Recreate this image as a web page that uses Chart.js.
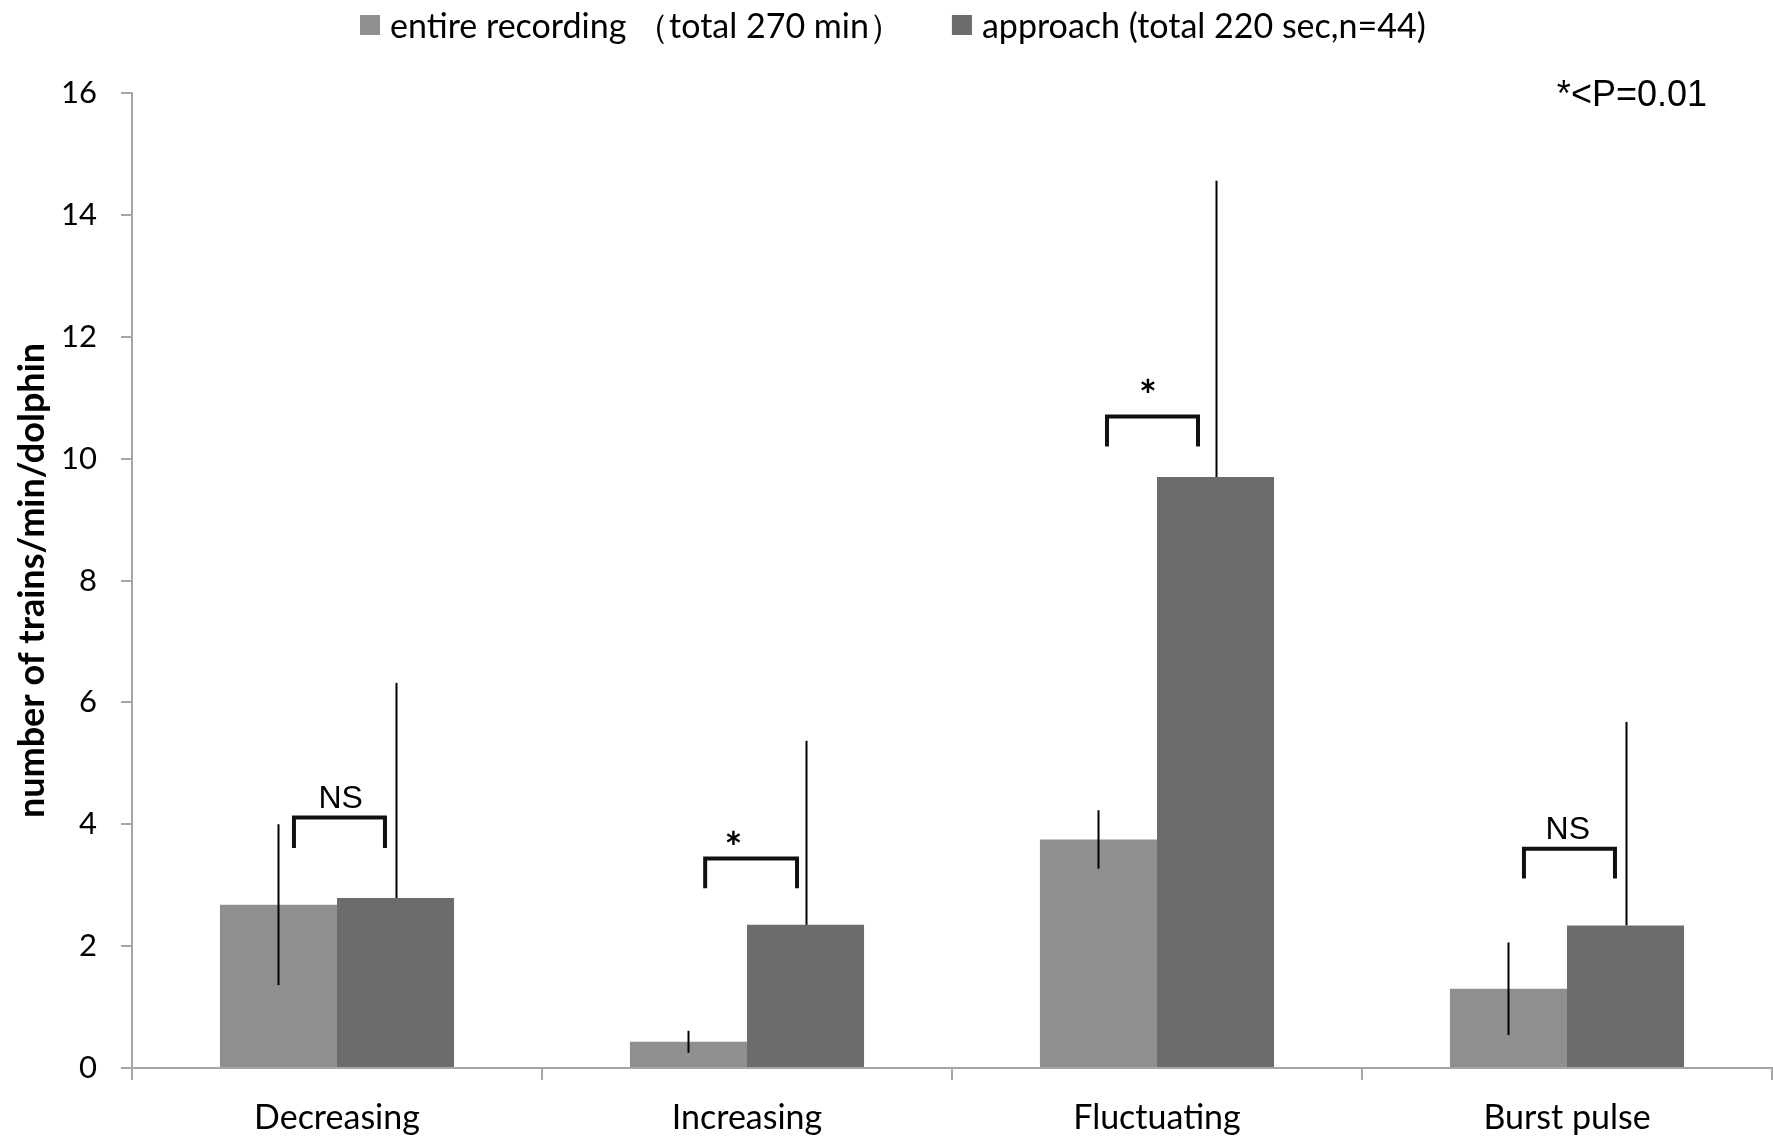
<!DOCTYPE html>
<html>
<head>
<meta charset="utf-8">
<script src="https://cdn.jsdelivr.net/npm/chart.js@4.4.0/dist/chart.umd.min.js"></script>
<style>
    html, body { margin: 0; padding: 0; background: #fff; }
</style>
</head>
<body>
<canvas id="barChart" width="1773" height="1142"></canvas>
<script>
    // data
    var categories = ['Decreasing', 'Increasing', 'Fluctuating', 'Burst pulse'];
    var seriesNames = ['entire recording （total 270 min）', 'approach (total 220 sec,n=44)'];
    var entireValues = [2.68, 0.43, 3.75, 1.30];
    var entireErrors = [1.32, 0.18, 0.48, 0.76];
    var approachValues = [2.79, 2.35, 9.70, 2.34];
    var approachErrors = [3.53, 3.02, 4.86, 3.34];
    var sigLabels = ['NS', '*', '*', 'NS'];
    var bracketTops = [4.11, 3.44, 10.69, 3.60];
    var bracketFeet = [3.61, 2.95, 10.20, 3.11];
    var noteText = '*<P=0.01';

    var seriesColors = ['#8f8f8f', '#6c6c6c'];
    var axisGray = '#a6a6a6';

    // bracket placement, as a fraction of the category width from its centre
    var bracketLeft = [-0.105, -0.102, -0.122, -0.105];
    var bracketRight = [0.117, 0.122, 0.100, 0.117];
    var labelShift = [0.009, -0.033, -0.022, 0.002];
    var labelBase = [4.27, 3.36, 10.78, 3.75];

    var annotations = {
        id: 'annotations',
        afterDatasetsDraw: function (chart) {
            var ctx = chart.ctx;
            var x = chart.scales.x, y = chart.scales.y;
            var catW = x.getPixelForValue(1) - x.getPixelForValue(0);
            var m0 = chart.getDatasetMeta(0), m1 = chart.getDatasetMeta(1);

            ctx.save();
            ctx.strokeStyle = '#000';
            ctx.lineWidth = 2;
            // error bars
            for (var j = 0; j < categories.length; j++) {
                var bx = Math.round(m0.data[j].x) + 0.5;
                ctx.beginPath();
                ctx.moveTo(bx, y.getPixelForValue(entireValues[j] - entireErrors[j]));
                ctx.lineTo(bx, y.getPixelForValue(entireValues[j] + entireErrors[j]));
                ctx.stroke();

                var ax = Math.round(m1.data[j].x) + 0.5;
                ctx.beginPath();
                ctx.moveTo(ax, y.getPixelForValue(approachValues[j]));
                ctx.lineTo(ax, y.getPixelForValue(approachValues[j] + approachErrors[j]));
                ctx.stroke();
            }

            // significance brackets
            ctx.lineWidth = 4;
            ctx.strokeStyle = '#111';
            ctx.lineJoin = 'miter';
            for (var k = 0; k < categories.length; k++) {
                var cx = x.getPixelForValue(k);
                var xl = cx + bracketLeft[k] * catW;
                var xr = cx + bracketRight[k] * catW;
                var yt = y.getPixelForValue(bracketTops[k]);
                var yf = y.getPixelForValue(bracketFeet[k]);
                ctx.beginPath();
                ctx.moveTo(xl, yf);
                ctx.lineTo(xl, yt);
                ctx.lineTo(xr, yt);
                ctx.lineTo(xr, yf);
                ctx.stroke();

                ctx.fillStyle = '#000';
                ctx.textAlign = 'center';
                ctx.textBaseline = 'alphabetic';
                if (sigLabels[k] === '*') {
                    ctx.font = 'bold 42px Lato';
                } else {
                    ctx.font = '32px "Liberation Sans"';
                }
                ctx.fillText(sigLabels[k], cx + labelShift[k] * catW, y.getPixelForValue(labelBase[k]));
            }

            // p-value note
            ctx.font = '36px "Liberation Sans"';
            ctx.textAlign = 'right';
            ctx.fillText(noteText, chart.chartArea.right - 65, y.getPixelForValue(16) + 13);
            ctx.restore();
        },
        afterDraw: function (chart) {
            // legend
            var ctx = chart.ctx;
            ctx.save();
            ctx.font = '34px Lato';
            ctx.textAlign = 'left';
            ctx.textBaseline = 'middle';
            var lx = 360, cy = 25;
            for (var i = 0; i < seriesNames.length; i++) {
                ctx.fillStyle = seriesColors[i];
                ctx.fillRect(lx, cy - 10, 20, 20);
                ctx.fillStyle = '#000';
                ctx.fillText(seriesNames[i], lx + 30, cy + 2);
                lx += 30 + ctx.measureText(seriesNames[i]).width + 49;
            }
            ctx.restore();
        }
    };

    var ctx1 = document.getElementById('barChart').getContext('2d');
    var myChart = new Chart(ctx1, {
        type: 'bar',
        data: {
            labels: categories,
            datasets: [{
                label: seriesNames[0],
                data: entireValues,
                backgroundColor: seriesColors[0],
                borderWidth: 0,
                categoryPercentage: 0.571,
                barPercentage: 1.0
            }, {
                label: seriesNames[1],
                data: approachValues,
                backgroundColor: seriesColors[1],
                borderWidth: 0,
                categoryPercentage: 0.571,
                barPercentage: 1.0
            }]
        },
        options: {
            responsive: false,
            animation: false,
            devicePixelRatio: 1,
            layout: { padding: { top: 93, right: 1, left: 0, bottom: 0 } },
            plugins: {
                legend: { display: false },
                tooltip: { enabled: false }
            },
            scales: {
                x: {
                    ticks: {
                        color: '#000',
                        font: { family: 'Lato', size: 34 },
                        padding: 18,
                        maxRotation: 0,
                        autoSkip: false
                    },
                    grid: { offset: true, drawOnChartArea: false, tickLength: 12, color: axisGray, lineWidth: 2 },
                    border: { color: axisGray, width: 2 },
                    afterFit: function (scale) { scale.height = 74; }
                },
                y: {
                    min: 0,
                    max: 16,
                    ticks: {
                        stepSize: 2,
                        padding: 24,
                        color: '#000',
                        font: { family: 'Lato', size: 31 }
                    },
                    grid: { drawOnChartArea: false, tickLength: 11, color: axisGray, lineWidth: 2 },
                    border: { color: axisGray, width: 2 },
                    title: {
                        display: true,
                        text: 'number of trains/min/dolphin',
                        color: '#000',
                        font: { family: 'Lato', size: 36, weight: 'bold' },
                        padding: { top: 11, bottom: 0 }
                    },
                    afterFit: function (scale) { scale.width = 132; }
                }
            }
        },
        plugins: [annotations]
    });
</script>
</body>
</html>
